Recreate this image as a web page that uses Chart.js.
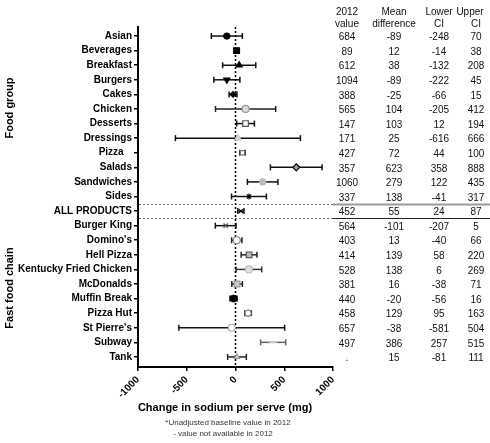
<!DOCTYPE html>
<html><head><meta charset="utf-8">
<script src="https://cdn.jsdelivr.net/npm/chart.js@4.4.1/dist/chart.umd.min.js"></script>
<style>html,body{margin:0;padding:0;background:#fff}#wrap{width:490px;height:443px}</style>
</head><body><div id="wrap"><canvas id="c" width="490" height="443"></canvas></div>
<script>
const categories = ['Asian','Beverages','Breakfast','Burgers','Cakes','Chicken','Desserts','Dressings','Pizza   ','Salads','Sandwiches','Sides','ALL PRODUCTS','Burger King',"Domino's",'Hell Pizza','Kentucky Fried Chicken','McDonalds','Muffin Break','Pizza Hut',"St Pierre's",'Subway','Tank'];
const baseline2012 = [684,89,612,1094,388,565,147,171,427,357,1060,337,452,564,403,414,528,381,440,458,657,497,null];
const meanDiff = [-89,12,38,-89,-25,104,103,25,72,623,279,138,55,-101,13,139,138,16,-20,129,-38,386,15];
const lowerCI = [-248,-14,-132,-222,-66,-205,12,-616,44,358,122,-41,24,-207,-40,58,6,-38,-56,95,-581,257,-81];
const upperCI = [70,38,208,45,15,412,194,666,100,888,435,317,87,5,66,220,269,71,16,163,504,515,111];
const xTicks = [-1000,-500,0,500,1000];
const tableHeaders = [['2012','value'],['Mean','difference'],['Lower','CI'],['Upper','CI']];

// marker styles (not data)
const mStyle = ['circle','rect','triangle','triangle','rectRot','circle','rect','triangle','rect','rectRot','circle','star','crossRot','crossRot','circle','rect','circle','rect','circle','circle','circle','line','triangle'];
const mRot   = [0,0,0,180,0,0,0,0,0,0,0,0,0,0,0,0,0,0,0,0,0,0,0];
const mFill  = ['#000','#000','#000','#000','#000','#ddd','#fff','#ddd','#fff','#999','#bbb','#000','#000','#555','#fff','#bbb','#e0e0e0','#ccc','#000','#fff','#fff','#ccc','#ddd'];
const mLine  = ['#000','#000','#000','#000','#000','#999','#555','#ccc','#777','#000','#bbb','#000','#000','#555','#888','#555','#bbb','#999','#000','#888','#aaa','#ccc','#999'];
const mRad   = [3,4,3.5,3.5,2.8,3.5,4,3.5,3,3.5,3,3,2.8,3,3.5,4,3.5,4,3.2,3,3.5,4,3];
const barCol = ['#111','#111','#111','#111','#111','#222','#111','#111','#333','#111','#111','#111','#111','#111','#222','#222','#333','#222','#000','#333','#111','#666','#222'];

const FONT = "'Liberation Sans', Arial, Helvetica, sans-serif";

function seg(ctx,x1,y1,x2,y2){ctx.beginPath();ctx.moveTo(x1,y1);ctx.lineTo(x2,y2);ctx.stroke();}

const overlay = {
  id:'overlay',
  beforeDatasetsDraw(chart){
    const {ctx, chartArea:a, scales:{x,y}} = chart;
    ctx.save();
    [11.5,12.5].forEach((v,k)=>{
      const py = Math.round(y.getPixelForValue(v))+0.5;
      ctx.setLineDash([2,2]); ctx.strokeStyle='#666'; ctx.lineWidth=1;
      seg(ctx,a.left+1,py,a.right,py);
      ctx.setLineDash([]); ctx.strokeStyle = k ? '#222' : '#999'; ctx.lineWidth = k ? 1 : 2;
      seg(ctx,a.right,py,chart.width,py);
    });
    ctx.setLineDash([]);
    categories.forEach((c,i)=>{
      const py = y.getPixelForValue(i);
      const xl = x.getPixelForValue(lowerCI[i]), xu = x.getPixelForValue(upperCI[i]);
      ctx.strokeStyle = barCol[i]; ctx.lineWidth = 1.5;
      seg(ctx,xl,py,xu,py); seg(ctx,xl,py-3,xl,py+3); seg(ctx,xu,py-3,xu,py+3);
    });
    const x0 = x.getPixelForValue(0);
    ctx.setLineDash([2,2]); ctx.strokeStyle='#000'; ctx.lineWidth=1.5;
    seg(ctx,x0,a.top,x0,a.bottom);
    ctx.restore();
  },
  afterDraw(chart){
    const {ctx, scales:{y}} = chart;
    ctx.save();
    ctx.fillStyle = '#111';
    ctx.textAlign = 'center'; ctx.textBaseline = 'middle';
    ctx.font = `10px ${FONT}`;
    const colX = [347,394,439,476];
    const headX = [347,394,439,470];
    tableHeaders.forEach((h,j)=>{ ctx.fillText(h[0],headX[j],12); ctx.fillText(h[1],colX[j],24); });
    categories.forEach((c,i)=>{
      const py = y.getPixelForValue(i) + 1.5;
      ctx.fillText(baseline2012[i]===null ? '.' : String(baseline2012[i]), colX[0], py);
      ctx.fillText(String(meanDiff[i]), colX[1], py);
      ctx.fillText(String(lowerCI[i]), colX[2], py);
      ctx.fillText(String(upperCI[i]), colX[3], py);
    });
    ctx.fillStyle = '#000';
    ctx.font = `bold 11px ${FONT}`;
    [['Food group',108],['Fast food chain',288]].forEach(([t,cy])=>{
      ctx.save(); ctx.translate(10,cy); ctx.rotate(-Math.PI/2); ctx.fillText(t,0,0); ctx.restore();
    });
    ctx.font = `bold 11px ${FONT}`;
    ctx.fillText('Change in sodium per serve (mg)',225,408);
    ctx.font = `8px ${FONT}`; ctx.fillStyle = '#333';
    ctx.fillText('*Unadjusted baseline value in 2012',228,423);
    ctx.fillText('- value not available in 2012',223,434);
    ctx.restore();
  }
};

new Chart(document.getElementById('c'), {
  type:'scatter',
  data:{ datasets:[{
    data: meanDiff.map((v,i)=>({x:v,y:i})),
    pointStyle: mStyle, rotation: mRot,
    backgroundColor: mFill, borderColor: mLine, borderWidth: 1.2,
    pointRadius: mRad, pointHoverRadius: mRad
  }]},
  options:{
    responsive:false, animation:false, devicePixelRatio:1,
    layout:{padding:{left:0,top:27,right:157,bottom:0}},
    plugins:{legend:{display:false}, tooltip:{enabled:false}},
    scales:{
      x:{
        type:'linear', min:-1000, max:1000,
        afterBuildTicks:(s)=>{ s.ticks = xTicks.map(v=>({value:v})); },
        afterFit:(s)=>{ s.height = 76; },
        grid:{display:true, drawOnChartArea:false, drawTicks:true, tickLength:4, color:'#000', lineWidth:1.5},
        border:{display:true, color:'#000', width:2},
        ticks:{minRotation:45, maxRotation:45, color:'#000', font:{family:FONT, size:10, weight:'bold'}, padding:3,
          callback:(v)=>String(v)}
      },
      y:{
        type:'linear', reverse:true, min:-0.62, max:22.69,
        afterBuildTicks:(s)=>{ s.ticks = categories.map((c,i)=>({value:i})); },
        afterFit:(s)=>{ s.width = 138; },
        grid:{display:true, drawOnChartArea:false, drawTicks:true, tickLength:4, color:'#000', lineWidth:1.5},
        border:{display:true, color:'#000', width:2},
        ticks:{autoSkip:false, color:'#000', padding:2, font:{family:FONT, size:10, weight:'bold'},
          callback:(v)=>categories[v]}
      }
    }
  },
  plugins:[overlay]
});
</script>
</body></html>
